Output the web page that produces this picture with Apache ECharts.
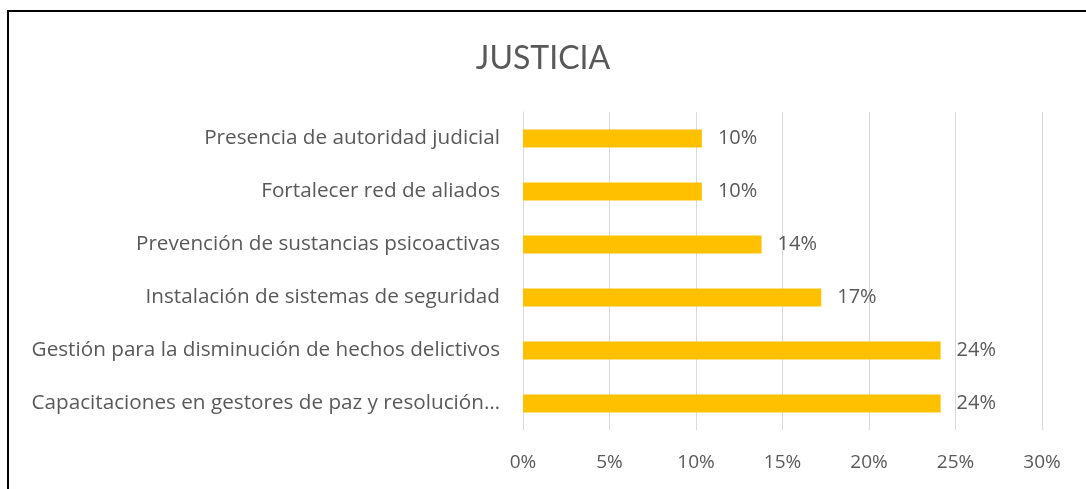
<!DOCTYPE html>
<html>
<head>
<meta charset="utf-8">
<script src="https://cdn.jsdelivr.net/npm/echarts@6/dist/echarts.min.js"></script>
<style>
  html, body { margin: 0; padding: 0; background: #fff; }
  #chart { width: 1086px; height: 489px; }
</style>
</head>
<body>
<div id="chart"></div>
<script>
// top to bottom, as in the picture
const categories = [
  'Presencia de autoridad judicial',
  'Fortalecer red de aliados',
  'Prevención de sustancias psicoactivas',
  'Instalación de sistemas de seguridad',
  'Gestión para la disminución de hechos delictivos',
  'Capacitaciones en gestores de paz y resolución…'
];
const percentages = [10.34, 10.34, 13.79, 17.24, 24.14, 24.14];
const tickMin = 0;
const tickMax = 30;
const tickStep = 5;

const titleFont = 'Lato, "Open Sans", sans-serif';
const font = '"Open Sans", Lato, sans-serif';
const grey = '#595959';

const myChart = echarts.init(document.getElementById('chart'));

myChart.setOption({
  animation: false,
  title: {
    text: 'JUSTICIA',
    left: 'center',
    top: 38,
    textStyle: { fontFamily: titleFont, fontSize: 32, fontWeight: 'normal', color: grey }
  },
  graphic: [{
    type: 'rect',
    shape: { x: 8, y: 11, width: 1100, height: 500 },
    style: { fill: 'none', stroke: '#000', lineWidth: 2 }
  }],
  grid: { left: 523, right: 44, top: 112, height: 318 },
  xAxis: {
    type: 'value',
    min: tickMin,
    max: tickMax,
    interval: tickStep,
    axisLine: { show: false },
    axisTick: { show: false },
    splitLine: { lineStyle: { color: '#d9d9d9', width: 1 } },
    axisLabel: {
      margin: 23,
      fontFamily: font, fontSize: 19, color: grey,
      formatter: v => v + '%'
    }
  },
  yAxis: {
    type: 'category',
    inverse: true,
    data: categories,
    axisLine: { lineStyle: { color: '#d9d9d9' } },
    axisTick: { show: false },
    axisLabel: { margin: 23, fontFamily: font, fontSize: 20.7, color: grey }
  },
  series: [{
    type: 'bar',
    data: percentages,
    barWidth: 18,
    itemStyle: { color: '#ffc000' },
    label: {
      show: true,
      position: 'right',
      distance: 16,
      fontFamily: font, fontSize: 20, color: grey,
      formatter: p => Math.round(p.value) + '%'
    }
  }]
});
</script>
</body>
</html>
